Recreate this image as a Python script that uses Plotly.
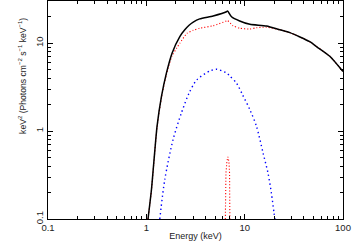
import plotly.graph_objects as go

# Total model (black solid)
tot_e = [1.04, 1.127, 1.19, 1.285, 1.424, 1.60, 1.826, 2.19, 2.46, 2.72, 3.0, 3.49, 4.78, 6.53, 6.7, 7.35, 8.9, 11.3, 16.7, 22.8, 28.8, 45.9, 54.2, 73.4, 100]
tot_f = [0.1, 0.215, 0.433, 1.13, 2.47, 4.56, 7.7, 11.9, 14.2, 16.0, 17.4, 18.9, 20.4, 22.8, 23.3, 20.0, 17.9, 16.4, 15.7, 14.2, 13.2, 10.4, 9.1, 7.1, 4.76]

# Reflection/continuum component (red dotted)
red_e = [1.04, 1.127, 1.19, 1.285, 1.424, 1.60, 1.826, 2.04, 2.19, 2.6, 3.0, 3.49, 4.78, 6.53, 6.7, 7.6, 8.9, 11.3, 13.2, 16.7, 22.8, 28.8, 45.9, 54.2, 73.4, 100]
red_f = [0.1, 0.21, 0.42, 1.1, 2.4, 4.4, 7.2, 8.8, 10.0, 13.0, 14.0, 14.8, 15.8, 17.9, 18.1, 15.8, 14.8, 14.5, 15.0, 15.2, 14.2, 13.2, 10.4, 9.1, 7.1, 4.76]

# Blackbody-like component (blue dotted)
bb_e = [1.37, 1.54, 1.87, 2.27, 2.72, 3.26, 4.45, 5.2, 6.58, 7.05, 8.26, 9.5, 11.3, 13.2, 15.4, 17.3, 18.7, 19.9, 20.3]
bb_f = [0.1, 0.28, 0.8, 1.6, 2.7, 3.83, 4.84, 5.06, 4.56, 4.25, 3.51, 2.6, 1.75, 1.13, 0.56, 0.33, 0.197, 0.117, 0.1]

# Iron line (red dotted)
fe_e = [6.36, 6.45, 6.6, 6.75, 6.92, 7.02, 7.07]
fe_f = [0.1, 0.33, 0.45, 0.51, 0.45, 0.33, 0.1]

x_ticks = [0.1, 1, 10, 100]
x_ticktext = ["0.1", "1", "10", "100"]
y_ticks = [0.1, 1, 10]
y_ticktext = ["0.1", "1", "10"]

x_title = "Energy (keV)"
y_title = "keV<sup>2</sup> (Photons cm<sup>\u22122</sup> s<sup>\u22121</sup> keV<sup>\u22121</sup>)"

minor_x = [m * d for d in [0.1, 1, 10] for m in range(2, 10)]
minor_y = [m * d for d in [0.1, 1, 10] for m in range(2, 10) if m * d <= 30]

fig = go.Figure()
fig.add_trace(go.Scatter(x=bb_e, y=bb_f, mode="lines", line=dict(color="#0000ff", width=1.4, dash="1.4px,3px", shape="spline", smoothing=0.8)))
fig.add_trace(go.Scatter(x=fe_e, y=fe_f, mode="lines", line=dict(color="#ff0000", width=1.1, dash="1.1px,2px")))
fig.add_trace(go.Scatter(x=red_e, y=red_f, mode="lines", line=dict(color="#ff0000", width=1.1, dash="1.1px,2px", shape="spline", smoothing=0.6)))
fig.add_trace(go.Scatter(x=tot_e, y=tot_f, mode="lines", line=dict(color="#000000", width=1.5, shape="spline", smoothing=0.6)))

title_font = dict(family="Liberation Sans, Arial, sans-serif", size=9, color="#222222")
tick_font = dict(family="Liberation Sans, Arial, sans-serif", size=9.5, color="#222222")

fig.update_layout(
    width=357, height=242,
    margin=dict(l=48, r=14, t=1, b=23),
    paper_bgcolor="white", plot_bgcolor="white",
    showlegend=False,
    font=title_font,
)
fig.update_xaxes(
    type="log", range=[-1, 2],
    tickvals=x_ticks, ticktext=x_ticktext,
    ticks="inside", ticklen=5, tickcolor="#000", showgrid=False, zeroline=False,
    showline=True, linecolor="#000", linewidth=1, mirror="allticks",
    minor=dict(tickvals=minor_x, ticks="inside", ticklen=3, tickcolor="#000", showgrid=False),
    title=dict(text=x_title, standoff=0, font=title_font),
    tickfont=tick_font,
)
fig.update_yaxes(
    type="log", range=[-1, 1.48],
    tickvals=y_ticks, ticktext=y_ticktext, tickangle=-90,
    ticks="inside", ticklen=5, tickcolor="#000", showgrid=False, zeroline=False,
    showline=True, linecolor="#000", linewidth=1, mirror="allticks",
    minor=dict(tickvals=minor_y, ticks="inside", ticklen=3, tickcolor="#000", showgrid=False),
    tickfont=tick_font,
)
fig.add_annotation(
    text=y_title, textangle=-90, font=dict(family="Liberation Sans, Arial, sans-serif", size=8.6, color="#222222"),
    xref="paper", yref="paper", x=-0.085, y=0.656, xanchor="center", yanchor="middle",
    showarrow=False,
)

fig.write_html("out.html", config={"displayModeBar": False},
               post_script="document.body.style.margin='0';document.body.style.padding='0';")
